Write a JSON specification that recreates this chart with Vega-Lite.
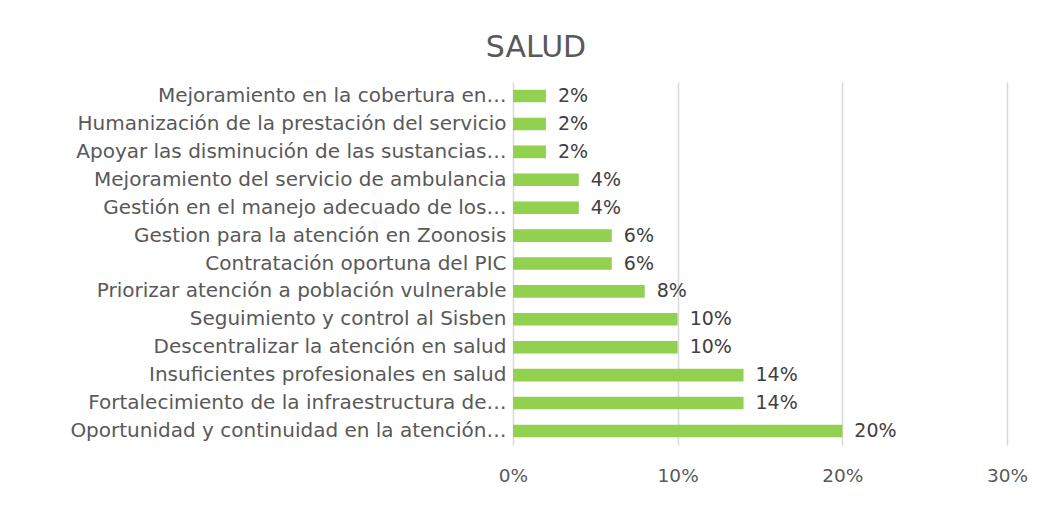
{
  "$schema": "https://vega.github.io/schema/vega-lite/v6.json",
  "width": 494,
  "height": 363,
  "autosize": "none",
  "padding": {"left": 513, "top": 82, "right": 48, "bottom": 61},
  "background": "white",
  "title": {
    "text": "SALUD",
    "fontSize": 30,
    "font": "DejaVu Sans",
    "fontWeight": "normal",
    "color": "#595959",
    "anchor": "middle",
    "dx": -224,
    "offset": 19
  },
  "data": {
    "values": [
      {"tema": "Mejoramiento en la cobertura en…", "valor": 0.02, "orden": 1},
      {"tema": "Humanización de la prestación del servicio", "valor": 0.02, "orden": 2},
      {"tema": "Apoyar las disminución de las sustancias…", "valor": 0.02, "orden": 3},
      {"tema": "Mejoramiento del servicio de ambulancia", "valor": 0.04, "orden": 4},
      {"tema": "Gestión en el manejo adecuado de los…", "valor": 0.04, "orden": 5},
      {"tema": "Gestion para la atención en Zoonosis", "valor": 0.06, "orden": 6},
      {"tema": "Contratación oportuna del PIC", "valor": 0.06, "orden": 7},
      {"tema": "Priorizar atención a población vulnerable", "valor": 0.08, "orden": 8},
      {"tema": "Seguimiento y control al Sisben", "valor": 0.10, "orden": 9},
      {"tema": "Descentralizar la atención en salud", "valor": 0.10, "orden": 10},
      {"tema": "Insuficientes profesionales en salud", "valor": 0.14, "orden": 11},
      {"tema": "Fortalecimiento de la infraestructura de…", "valor": 0.14, "orden": 12},
      {"tema": "Oportunidad y continuidad en la atención…", "valor": 0.20, "orden": 13}
    ]
  },
  "encoding": {
    "y": {
      "field": "tema",
      "type": "nominal",
      "sort": {"field": "orden", "order": "ascending"},
      "scale": {"paddingInner": 0.55, "paddingOuter": 0.28},
      "axis": {
        "title": null,
        "domain": false,
        "ticks": false,
        "labelPadding": 7,
        "labelLimit": 600,
        "labelFont": "DejaVu Sans",
        "labelFontSize": 20,
        "labelColor": "#595959",
        "grid": false
      }
    },
    "x": {
      "field": "valor",
      "type": "quantitative",
      "scale": {"domain": [0, 0.3], "nice": false},
      "axis": {
        "title": null,
        "format": ".0%",
        "values": [0, 0.1, 0.2, 0.3],
        "domain": false,
        "ticks": false,
        "labelFlush": false,
        "labelPadding": 21,
        "labelFont": "DejaVu Sans",
        "labelFontSize": 18.5,
        "labelColor": "#595959",
        "gridColor": "#d9d9d9",
        "gridWidth": 1.5
      }
    }
  },
  "layer": [
    {"mark": {"type": "bar", "color": "#92D050"}},
    {
      "mark": {"type": "text", "align": "left", "dx": 12, "font": "DejaVu Sans", "fontSize": 19, "color": "#404040", "baseline": "middle"},
      "encoding": {"text": {"field": "valor", "type": "quantitative", "format": ".0%"}}
    }
  ],
  "config": {"view": {"stroke": null}}
}
